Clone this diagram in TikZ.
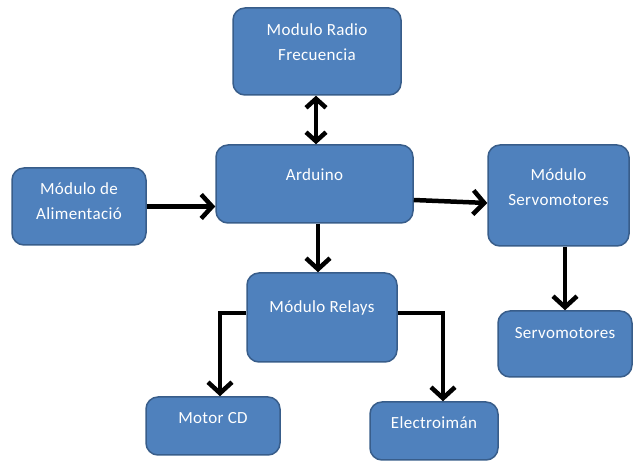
\documentclass[tikz,border=0pt]{standalone}
\usepackage{fontspec}
\setmainfont{Carlito}[LetterSpace=2]
\usetikzlibrary{arrows.meta,calc}
\definecolor{boxfill}{HTML}{4F81BD}
\definecolor{boxline}{HTML}{385D8A}
\tikzset{
  box/.style={draw=boxline, fill=boxfill, line width=1.5pt, rounded corners=12pt, inner sep=0pt},
  txt/.style={text=white, align=center, font=\fontsize{17}{25}\selectfont, inner sep=0pt},
  conn/.style={line width=4.5pt, -{Straight Barb[length=11pt,width=24pt,line width=4.5pt]}},
  dconn/.style={line width=4.5pt, {Straight Barb[length=9pt,width=20pt,line width=4.5pt]}-{Straight Barb[length=9pt,width=20pt,line width=4.5pt]}}
}
\begin{document}
\begin{tikzpicture}[x=1pt,y=-1pt]
\useasboundingbox (0,0) rectangle (633,462);
\node[box, minimum width=168pt, minimum height=87pt] (radio) at (317,51.5) {};
\node[txt] (radiot) at (317,42) {Modulo Radio\\Frecuencia};
\node[box, minimum width=197pt, minimum height=78pt] (ard) at (314.5,184) {};
\node[txt] (ardt) at (314.5,175) {Arduino};
\node[box, minimum width=134pt, minimum height=77pt] (alim) at (79,206.5) {};
\node[txt] (alimt) at (79,201) {Módulo de\\Alimentació};
\node[box, minimum width=141pt, minimum height=101pt] (servom) at (558.5,195.5) {};
\node[txt] (servomt) at (558.5,187) {Módulo\\Servomotores};
\node[box, minimum width=150pt, minimum height=89pt] (relays) at (322,317.5) {};
\node[txt] (relayst) at (322,308) {Módulo Relays};
\node[box, minimum width=134pt, minimum height=66pt] (servos) at (565,344) {};
\node[txt] (servost) at (565,333) {Servomotores};
\node[box, minimum width=134pt, minimum height=58pt] (motor) at (213,426) {};
\node[txt] (motort) at (213,418) {Motor CD};
\node[box, minimum width=128pt, minimum height=58pt] (electro) at (434,431) {};
\node[txt] (electrot) at (434,423) {Electroimán};
\coordinate (mturn) at (220,313);
\coordinate (eturn) at (443,313);
\draw[dconn] (radio.south -| 316,0) -- (ard.north -| 316,0);
\draw[conn] (alim.east) -- (ard.west |- alim.east);
\draw[conn] (ard.east |- 0,200) -- (servom.west |- 0,203);
\draw[conn] (ard.south -| 318,0) -- (relays.north -| 318,0);
\draw[conn] (servom.south -| servos.north) -- (servos.north);
\draw[conn, line join=miter] (relays.west |- mturn) -- (mturn) -- (motor.north -| mturn);
\draw[conn, line join=miter] (relays.east |- eturn) -- (eturn) -- (electro.north -| eturn);
\end{tikzpicture}
\end{document}
